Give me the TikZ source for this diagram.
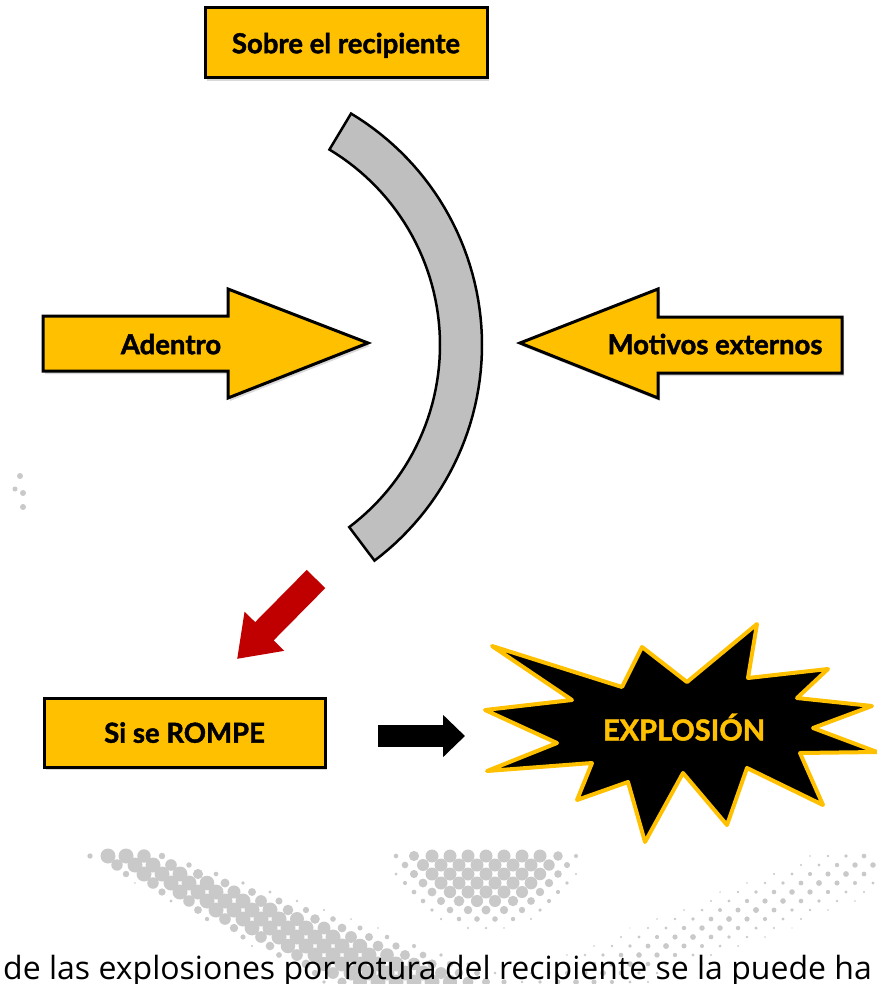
\documentclass[tikz,border=0pt]{standalone}
\usepackage{fontspec}
\setmainfont{Open Sans}
\newfontfamily\gillfont{Lato}[BoldFeatures={FakeBold=1.6}]
\usepackage{tikz}
\usetikzlibrary{positioning, arrows.meta, shadows}
\definecolor{gold}{HTML}{FFC000}
\definecolor{darkred}{HTML}{C00000}
\tikzstyle{box} = [rectangle, draw=black, line width=3pt, fill=gold, minimum width=282pt, minimum height=70pt, text depth=0pt, font=\gillfont\bfseries\fontsize{27.5}{30}\selectfont, drop shadow={opacity=0.3, shadow xshift=2pt, shadow yshift=-3pt}]
\tikzstyle{blockarrow} = [draw=black, line width=3pt, fill=gold, line join=miter, drop shadow={opacity=0.3, shadow xshift=2pt, shadow yshift=-3pt}]
\tikzstyle{arrowtext} = [text depth=0pt, font=\gillfont\bfseries\fontsize{27.5}{30}\selectfont]
\tikzstyle{ring} = [draw=black, line width=2.5pt, fill=gray!50, line join=miter]
\tikzstyle{redarrow} = [-{Triangle[length=39pt,width=53pt]}, line width=26pt, darkred]
\tikzstyle{blackarrow} = [-{Triangle[length=22pt,width=41pt]}, line width=22pt, black]
\tikzstyle{boom} = [draw=gold, line width=4pt, fill=black, line join=round]
\tikzstyle{boomtext} = [text=gold, text depth=0pt, font=\gillfont\bfseries\fontsize{29}{30}\selectfont]
\tikzstyle{halftone} = [fill=gray!42]

\begin{document}
\begin{tikzpicture}[x=1pt, y=-1pt]
        \useasboundingbox (0,0) rectangle (877,984);
        \clip (0,0) rectangle (877,984);

        \foreach \j in {0,...,14} {
          \foreach \i in {0,...,49} {
            \pgfmathsetmacro\px{\i*18+mod(\j,2)*9}
            \pgfmathsetmacro\py{856+\j*9}
            \pgfmathsetmacro\hu{\px/100}
            \pgfmathsetmacro\hv{\py/100}
            \pgfmathsetmacro\hw{0.22+0.1*(\hu-1.3)}
            \pgfmathsetmacro\ra{7.5*min(1,1.6*(1-abs(\hv-(8.6+0.45*(\hu-1.3)))/\hw))}
            \pgfmathsetmacro\ex{(\hu-4.85)/1.05}
            \pgfmathsetmacro\ey{(\hv-8.45)/0.9}
            \pgfmathsetmacro\rb{6.5*min(1,2.5*(1-sqrt(\ex*\ex+\ey*\ey)))}
            \pgfmathsetmacro\rc{3*(1-abs(\hv-(9.9-0.41*(\hu-5.6)))*0.92/0.4)}
            \pgfmathsetmacro\rr{max(\ra,\rb,\rc)}
            \ifdim\rr pt>0.7pt \fill[halftone] (\px,\py) circle (\rr pt); \fi
          }
        }
        \fill[halftone] (20,476) circle (3pt) (15,489) circle (2.5pt) (23,493) circle (3pt) (23,507) circle (3pt);

        \node (sobre) [box] at (346,43) {Sobre el recipiente};

        \draw[ring] plot[domain=-59:53, samples=60] ({212+270*cos(\x)}, {345+270*sin(\x)})
          -- plot[domain=53:-59, samples=60] ({212+228*cos(\x)}, {345+228*sin(\x)}) -- cycle;

        \draw[blockarrow] (43,316) -- (228,316) -- (228,289) -- (368,343) -- (228,398) -- (228,371) -- (43,371) -- cycle;
        \node (adentro) [arrowtext] at (171,344) {Adentro};

        \draw[blockarrow] (842,317) -- (658,317) -- (658,289) -- (520,343) -- (658,398) -- (658,373) -- (842,373) -- cycle;
        \node (motivos) [arrowtext] at (715,344) {Motivos externos};

        \coordinate (rota) at (316,579);
        \coordinate (rotb) at (237,659);
        \draw[redarrow] (rota) -- (rotb);

        \node (rompe) [box, minimum width=281pt, minimum height=69pt] at (184.5,732.5) {Si se ROMPE};

        \draw[boom] (492,646) -- (622,687) -- (642,647) -- (687,682) -- (757,624) -- (748,678) -- (828,669) -- (797,698)
          -- (872,706) -- (813,728) -- (877,752) -- (800,753) -- (823,805) -- (747,768) -- (727,825) -- (683,773)
          -- (645,842) -- (628,782) -- (577,800) -- (592,763) -- (487,771) -- (557,743) -- (485,710) -- (572,700) -- cycle;
        \node (boomtxt) [boomtext] at (684,727) {EXPLOSIÓN};

        \coordinate (blka) at (378,736);
        \coordinate (blkb) at (465,736);
        \draw[blackarrow] (blka) -- (blkb);

        \node (caption) [anchor=base west, inner sep=0pt, font=\fontsize{32}{36}\selectfont] at (3,979) {de las explosiones por rotura del recipiente se la puede ha};

        \end{tikzpicture}
\end{document}
